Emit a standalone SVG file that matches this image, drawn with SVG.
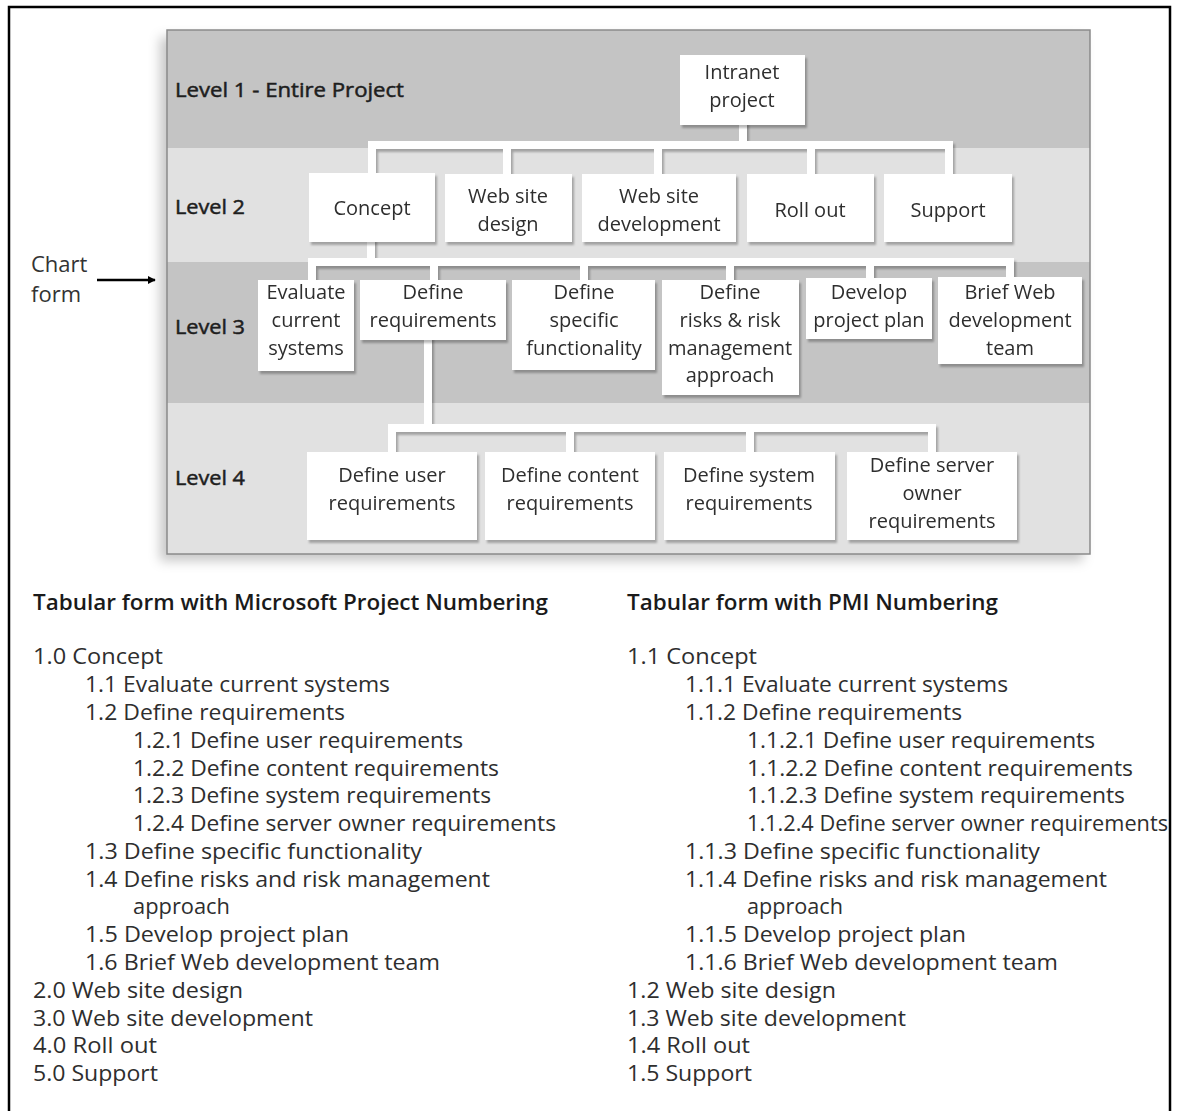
<svg xmlns="http://www.w3.org/2000/svg" width="1178" height="1111" viewBox="0 0 1178 1111">
  <defs>
    <filter id="panelShadow" x="-5%" y="-5%" width="110%" height="110%">
      <feDropShadow dx="-7" dy="7" stdDeviation="6" flood-color="#000" flood-opacity="0.22"/>
    </filter>
    <filter id="softShadow" x="-10%" y="-10%" width="130%" height="130%">
      <feDropShadow dx="2" dy="3" stdDeviation="1.2" flood-color="#000" flood-opacity="0.28"/>
    </filter>
    <marker id="arrow" viewBox="0 0 10 10" refX="9" refY="5" markerWidth="8" markerHeight="8" orient="auto" markerUnits="userSpaceOnUse">
      <path d="M0,0 L10,5 L0,10 z" fill="#000"/>
    </marker>
    <style>
      .box { fill: #ffffff; }
      .btxt { font-family: "Open Sans", "Liberation Sans", sans-serif; font-size: 20px; fill: #2e2e2e; text-anchor: middle; }
      .lvl { font-family: "Open Sans", "Liberation Sans", sans-serif; font-size: 20px; font-weight: normal; fill: #1e1e1e; stroke: #1e1e1e; stroke-width: 0.5; }
      .conn { fill: none; stroke: #ffffff; stroke-width: 8; stroke-linejoin: miter; stroke-linecap: square; }
      .ttl { font-family: "Open Sans", "Liberation Sans", sans-serif; font-size: 21px; font-weight: 600; fill: #1a1a1a; }
      .lst { font-family: "Open Sans", "Liberation Sans", sans-serif; font-size: 21px; fill: #2e2e2e; }
      .side { font-family: "Open Sans", "Liberation Sans", sans-serif; font-size: 22px; fill: #333; }
    </style>
  </defs>

  <rect width="1178" height="1111" fill="#ffffff"/>
  <!-- outer frame -->
  <rect x="9" y="7" width="1161" height="1110" fill="none" stroke="#000" stroke-width="2.5"/>

  <!-- chart panel with level bands -->
  <g id="panel">
    <rect x="167" y="30" width="923" height="524" fill="#c4c4c4" filter="url(#panelShadow)"/>
    <rect x="167" y="30" width="923" height="118" fill="#c4c4c4"/>
    <rect x="167" y="148" width="923" height="114" fill="#e1e1e1"/>
    <rect x="167" y="262" width="923" height="141" fill="#c4c4c4"/>
    <rect x="167" y="403" width="923" height="151" fill="#e1e1e1"/>
    <rect x="167" y="30" width="923" height="524" fill="none" stroke="#8a8a8a" stroke-width="1.5"/>
  </g>

  <!-- level labels -->
  <g id="labels">
    <text class="lvl" x="175" y="97" textLength="229" lengthAdjust="spacingAndGlyphs">Level 1 - Entire Project</text>
    <text class="lvl" x="175" y="214" textLength="70" lengthAdjust="spacingAndGlyphs">Level 2</text>
    <text class="lvl" x="175" y="334" textLength="70" lengthAdjust="spacingAndGlyphs">Level 3</text>
    <text class="lvl" x="175" y="485" textLength="70" lengthAdjust="spacingAndGlyphs">Level 4</text>
  </g>

  <!-- chart form pointer -->
  <g id="chart-form">
    <text class="side" x="31" y="272">Chart</text>
    <text class="side" x="31" y="302">form</text>
    <line x1="97" y1="280" x2="155" y2="280" stroke="#000" stroke-width="2.5" marker-end="url(#arrow)"/>
  </g>

  <!-- connectors -->
  <g id="connectors" filter="url(#softShadow)">
    <!-- level 1 to level 2 -->
    <path class="conn" d="M743,125 V145 M372,174 V145 H949 V174 M507,145 V174 M658,145 V174 M811,145 V174"/>
    <!-- concept to level 3 -->
    <path class="conn" d="M371,242 V262 M312,280 V262 H1010 V280 M434,262 V280 M584,262 V280 M730,262 V280 M870,262 V280"/>
    <!-- define requirements to level 4 -->
    <path class="conn" d="M428,340 V428 M392,452 V428 H932 V452 M570,428 V452 M750,428 V452"/>
  </g>

  <!-- level 1 -->
  <g id="intranet-project" filter="url(#softShadow)">
    <rect class="box" x="680" y="55" width="125" height="70"/>
    <text class="btxt" x="742" y="79">Intranet</text>
    <text class="btxt" x="742" y="107">project</text>
  </g>

  <!-- level 2 -->
  <g id="concept" filter="url(#softShadow)">
    <rect class="box" x="309" y="173" width="126" height="69"/>
    <text class="btxt" x="372" y="215">Concept</text>
  </g>
  <g id="web-site-design" filter="url(#softShadow)">
    <rect class="box" x="445" y="174" width="127" height="68"/>
    <text class="btxt" x="508" y="203">Web site</text>
    <text class="btxt" x="508" y="231">design</text>
  </g>
  <g id="web-site-development" filter="url(#softShadow)">
    <rect class="box" x="582" y="174" width="154" height="68"/>
    <text class="btxt" x="659" y="203">Web site</text>
    <text class="btxt" x="659" y="231">development</text>
  </g>
  <g id="roll-out" filter="url(#softShadow)">
    <rect class="box" x="747" y="174" width="127" height="68"/>
    <text class="btxt" x="810" y="217">Roll out</text>
  </g>
  <g id="support" filter="url(#softShadow)">
    <rect class="box" x="884" y="174" width="128" height="68"/>
    <text class="btxt" x="948" y="217">Support</text>
  </g>

  <!-- level 3 -->
  <g id="evaluate-current-systems" filter="url(#softShadow)">
    <rect class="box" x="258" y="280" width="96" height="91"/>
    <text class="btxt" x="306" y="299">Evaluate</text>
    <text class="btxt" x="306" y="327">current</text>
    <text class="btxt" x="306" y="355">systems</text>
  </g>
  <g id="define-requirements" filter="url(#softShadow)">
    <rect class="box" x="360" y="280" width="146" height="60"/>
    <text class="btxt" x="433" y="299">Define</text>
    <text class="btxt" x="433" y="327">requirements</text>
  </g>
  <g id="define-specific-functionality" filter="url(#softShadow)">
    <rect class="box" x="512" y="280" width="143" height="90"/>
    <text class="btxt" x="584" y="299">Define</text>
    <text class="btxt" x="584" y="327">specific</text>
    <text class="btxt" x="584" y="355">functionality</text>
  </g>
  <g id="define-risks" filter="url(#softShadow)">
    <rect class="box" x="662" y="280" width="137" height="115"/>
    <text class="btxt" x="730" y="299">Define</text>
    <text class="btxt" x="730" y="327">risks &amp; risk</text>
    <text class="btxt" x="730" y="355">management</text>
    <text class="btxt" x="730" y="382">approach</text>
  </g>
  <g id="develop-project-plan" filter="url(#softShadow)">
    <rect class="box" x="806" y="278" width="126" height="61"/>
    <text class="btxt" x="869" y="299">Develop</text>
    <text class="btxt" x="869" y="327">project plan</text>
  </g>
  <g id="brief-web-team" filter="url(#softShadow)">
    <rect class="box" x="938" y="277" width="144" height="87"/>
    <text class="btxt" x="1010" y="299">Brief Web</text>
    <text class="btxt" x="1010" y="327">development</text>
    <text class="btxt" x="1010" y="355">team</text>
  </g>

  <!-- level 4 -->
  <g id="define-user-requirements" filter="url(#softShadow)">
    <rect class="box" x="307" y="452" width="170" height="88"/>
    <text class="btxt" x="392" y="482">Define user</text>
    <text class="btxt" x="392" y="510">requirements</text>
  </g>
  <g id="define-content-requirements" filter="url(#softShadow)">
    <rect class="box" x="485" y="452" width="170" height="88"/>
    <text class="btxt" x="570" y="482">Define content</text>
    <text class="btxt" x="570" y="510">requirements</text>
  </g>
  <g id="define-system-requirements" filter="url(#softShadow)">
    <rect class="box" x="664" y="452" width="171" height="88"/>
    <text class="btxt" x="749" y="482">Define system</text>
    <text class="btxt" x="749" y="510">requirements</text>
  </g>
  <g id="define-server-owner-requirements" filter="url(#softShadow)">
    <rect class="box" x="847" y="452" width="170" height="88"/>
    <text class="btxt" x="932" y="472">Define server</text>
    <text class="btxt" x="932" y="500">owner</text>
    <text class="btxt" x="932" y="528">requirements</text>
  </g>

  <!-- tabular form, Microsoft Project numbering -->
  <g id="table-msproject">
    <text class="ttl" x="33" y="610" textLength="515" lengthAdjust="spacingAndGlyphs">Tabular form with Microsoft Project Numbering</text>
    <text class="lst" x="33" y="664" textLength="130" lengthAdjust="spacingAndGlyphs">1.0 Concept</text>
    <text class="lst" x="85" y="692" textLength="305" lengthAdjust="spacingAndGlyphs">1.1 Evaluate current systems</text>
    <text class="lst" x="85" y="720" textLength="260" lengthAdjust="spacingAndGlyphs">1.2 Define requirements</text>
    <text class="lst" x="133" y="748" textLength="330" lengthAdjust="spacingAndGlyphs">1.2.1 Define user requirements</text>
    <text class="lst" x="133" y="776" textLength="366" lengthAdjust="spacingAndGlyphs">1.2.2 Define content requirements</text>
    <text class="lst" x="133" y="803" textLength="358" lengthAdjust="spacingAndGlyphs">1.2.3 Define system requirements</text>
    <text class="lst" x="133" y="831" textLength="423" lengthAdjust="spacingAndGlyphs">1.2.4 Define server owner requirements</text>
    <text class="lst" x="85" y="859" textLength="337" lengthAdjust="spacingAndGlyphs">1.3 Define specific functionality</text>
    <text class="lst" x="85" y="887" textLength="405" lengthAdjust="spacingAndGlyphs">1.4 Define risks and risk management</text>
    <text class="lst" x="133" y="914" textLength="97" lengthAdjust="spacingAndGlyphs">approach</text>
    <text class="lst" x="85" y="942" textLength="264" lengthAdjust="spacingAndGlyphs">1.5 Develop project plan</text>
    <text class="lst" x="85" y="970" textLength="355" lengthAdjust="spacingAndGlyphs">1.6 Brief Web development team</text>
    <text class="lst" x="33" y="998" textLength="210" lengthAdjust="spacingAndGlyphs">2.0 Web site design</text>
    <text class="lst" x="33" y="1026" textLength="280" lengthAdjust="spacingAndGlyphs">3.0 Web site development</text>
    <text class="lst" x="33" y="1053" textLength="124" lengthAdjust="spacingAndGlyphs">4.0 Roll out</text>
    <text class="lst" x="33" y="1081" textLength="125" lengthAdjust="spacingAndGlyphs">5.0 Support</text>
  </g>

  <!-- tabular form, PMI numbering -->
  <g id="table-pmi">
    <text class="ttl" x="627" y="610" textLength="371" lengthAdjust="spacingAndGlyphs">Tabular form with PMI Numbering</text>
    <text class="lst" x="627" y="664" textLength="130" lengthAdjust="spacingAndGlyphs">1.1 Concept</text>
    <text class="lst" x="685" y="692" textLength="323" lengthAdjust="spacingAndGlyphs">1.1.1 Evaluate current systems</text>
    <text class="lst" x="685" y="720" textLength="277" lengthAdjust="spacingAndGlyphs">1.1.2 Define requirements</text>
    <text class="lst" x="747" y="748" textLength="348" lengthAdjust="spacingAndGlyphs">1.1.2.1 Define user requirements</text>
    <text class="lst" x="747" y="776" textLength="386" lengthAdjust="spacingAndGlyphs">1.1.2.2 Define content requirements</text>
    <text class="lst" x="747" y="803" textLength="378" lengthAdjust="spacingAndGlyphs">1.1.2.3 Define system requirements</text>
    <text class="lst" x="747" y="831" textLength="421" lengthAdjust="spacingAndGlyphs">1.1.2.4 Define server owner requirements</text>
    <text class="lst" x="685" y="859" textLength="355" lengthAdjust="spacingAndGlyphs">1.1.3 Define specific functionality</text>
    <text class="lst" x="685" y="887" textLength="422" lengthAdjust="spacingAndGlyphs">1.1.4 Define risks and risk management</text>
    <text class="lst" x="747" y="914" textLength="96" lengthAdjust="spacingAndGlyphs">approach</text>
    <text class="lst" x="685" y="942" textLength="281" lengthAdjust="spacingAndGlyphs">1.1.5 Develop project plan</text>
    <text class="lst" x="685" y="970" textLength="373" lengthAdjust="spacingAndGlyphs">1.1.6 Brief Web development team</text>
    <text class="lst" x="627" y="998" textLength="209" lengthAdjust="spacingAndGlyphs">1.2 Web site design</text>
    <text class="lst" x="627" y="1026" textLength="279" lengthAdjust="spacingAndGlyphs">1.3 Web site development</text>
    <text class="lst" x="627" y="1053" textLength="123" lengthAdjust="spacingAndGlyphs">1.4 Roll out</text>
    <text class="lst" x="627" y="1081" textLength="125" lengthAdjust="spacingAndGlyphs">1.5 Support</text>
  </g>
</svg>
